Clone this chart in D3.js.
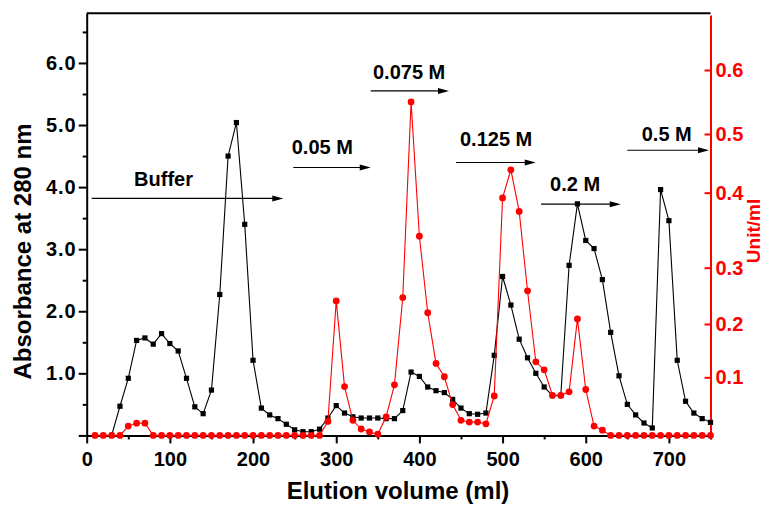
<!DOCTYPE html>
<html>
<head>
<meta charset="utf-8">
<script src="https://cdn.jsdelivr.net/npm/d3@7"></script>
<style>
	body { margin: 0; background: #fff; }
	svg { display: block; overflow: hidden; font-family: "Liberation Sans", Arial, sans-serif; font-weight: bold; }
</style>
</head>
<body>
<script>
// absorbance at 280 nm (black squares)
var absVolume = [30, 40, 50, 60, 70, 80, 90, 100, 110, 120, 130, 140, 150, 160, 170, 180, 190, 200,
	210, 220, 230, 240, 250, 260, 270, 280, 290, 300, 310, 320, 330, 340, 350, 360, 370, 380, 390, 400,
	410, 420, 430, 440, 450, 460, 470, 480, 490, 500, 510, 520, 530, 540, 550, 560, 570, 580, 590, 600,
	610, 620, 630, 640, 650, 660, 670, 680, 690, 700, 710, 720, 730, 740, 750];
var absValues = [0, 0.47, 0.92, 1.53, 1.57, 1.47, 1.64, 1.48, 1.36, 0.92, 0.46, 0.35, 0.73, 2.27, 4.50, 5.04, 3.40, 1.21,
	0.44, 0.33, 0.27, 0.18, 0.09, 0.06, 0.06, 0.10, 0.28, 0.48, 0.36, 0.30, 0.28, 0.28, 0.28, 0.27, 0.27, 0.40, 1.02, 0.95,
	0.78, 0.72, 0.69, 0.58, 0.44, 0.35, 0.34, 0.36, 1.29, 2.56, 2.10, 1.55, 1.25, 1.00, 0.78, 0.64, 0.64, 2.74, 3.73, 3.14,
	3.01, 2.51, 1.66, 0.96, 0.50, 0.33, 0.20, 0.12, 3.96, 3.46, 1.21, 0.55, 0.36, 0.27, 0.21];

// activity in Unit/ml (red circles)
var actVolume = [10, 20, 30, 40, 50, 60, 70, 80, 90, 100, 110, 120, 130, 140, 150, 160, 170, 180, 190, 200,
	210, 220, 230, 240, 250, 260, 270, 280, 290, 300, 310, 320, 330, 340, 350, 360, 370, 380, 390, 400,
	410, 420, 430, 440, 450, 460, 470, 480, 490, 500, 510, 520, 530, 540, 550, 560, 570, 580, 590, 600,
	610, 620, 630, 640, 650, 660, 670, 680, 690, 700, 710, 720, 730, 740, 750];
var actValues = [0, 0, 0, 0, 0.016, 0.021, 0.021, 0, 0, 0, 0, 0, 0, 0, 0, 0, 0, 0, 0, 0,
	0, 0, 0, 0, 0, 0, 0, 0, 0.024, 0.241, 0.084, 0.026, 0.011, 0.006, 0.002, 0.032, 0.087, 0.247, 0.550, 0.342,
	0.220, 0.126, 0.101, 0.053, 0.026, 0.023, 0.023, 0.020, 0.068, 0.393, 0.439, 0.375, 0.259, 0.129, 0.114, 0.069, 0.069, 0.075, 0.209, 0.079,
	0.016, 0.009, 0, 0, 0, 0, 0, 0, 0, 0, 0, 0, 0, 0, 0];

var xTicks = [0, 100, 200, 300, 400, 500, 600, 700];
var yTicks = [1, 2, 3, 4, 5, 6];
var y2Ticks = [0.1, 0.2, 0.3, 0.4, 0.5, 0.6];

// salt step annotations (data units: ml and absorbance)
var stepLabels = ["Buffer", "0.05 M", "0.075 M", "0.125 M", "0.2 M", "0.5 M"];
var stepStart = [6, 248.4, 341.5, 444, 546.2, 650];
var stepEnd = [236.4, 341.5, 435.6, 539.9, 642.1, 748.2];
var stepLevel = [3.817, 4.316, 5.549, 4.396, 3.725, 4.594];
var stepTextX = [57, 246.5, 344.2, 448.8, 557.1, 667.3];
var stepTextY = [4.015, 4.541, 5.749, 4.667, 3.939, 4.744];

window.onload = function(){
	var w = 764, h = 505;
	var left = 86.7, right = 710.5, top = 13.3, bottom = 435.4;

	var svg = d3.select("body")
		.append("svg")
		.attr("width", w)
		.attr("height", h)
		.attr("class", "chart");

	var x = d3.scaleLinear()
		.domain([0, 750])
		.range([left, right]);

	var y = d3.scaleLinear()
		.domain([0, 6.8])
		.range([bottom, top]);

	//the right axis of the original is not evenly spaced, so piecewise
	var y2 = d3.scaleLinear()
		.domain([0, 0.1, 0.2, 0.3, 0.4, 0.5, 0.6, 0.686])
		.range([435.4, 377.3, 324, 267.7, 192.7, 134, 70, 15]);

	function styleAxis(g, color, size, spacing){
		g.selectAll("path").attr("stroke", color).attr("stroke-width", 2);
		g.selectAll("line").attr("stroke", color).attr("stroke-width", 2);
		g.selectAll("text")
			.attr("fill", color)
			.style("font-size", size + "px")
			.style("font-weight", "bold")
			.style("letter-spacing", spacing + "px");
		g.attr("font-family", null).attr("font-size", null);
	}

	//top frame line
	svg.append("line")
		.attr("class", "frame")
		.attr("x1", left)
		.attr("x2", right)
		.attr("y1", top)
		.attr("y2", top)
		.attr("stroke", "#000")
		.attr("stroke-width", 2);

	//bottom axis, minor then major
	svg.append("g")
		.attr("class", "xMinor")
		.attr("transform", "translate(0," + bottom + ")")
		.call(d3.axisBottom(x).tickValues([50, 150, 250, 350, 450, 550, 650, 750]).tickSize(4).tickFormat(""))
		.call(function(g){ styleAxis(g, "#000", 20, 0); g.select(".domain").remove(); });

	svg.append("g")
		.attr("class", "xAxis")
		.attr("transform", "translate(0," + bottom + ")")
		.call(d3.axisBottom(x).tickValues(xTicks).tickSize(8).tickSizeOuter(0).tickPadding(8).tickFormat(d3.format("d")))
		.call(function(g){ styleAxis(g, "#000", 20, 0); });

	//left axis
	svg.append("g")
		.attr("class", "yMinor")
		.attr("transform", "translate(" + left + ",0)")
		.call(d3.axisLeft(y).tickValues([0.5, 1.5, 2.5, 3.5, 4.5, 5.5, 6.5]).tickSize(4).tickFormat(""))
		.call(function(g){ styleAxis(g, "#000", 20, 0); g.select(".domain").remove(); });

	svg.append("g")
		.attr("class", "yAxis")
		.attr("transform", "translate(" + left + ",0)")
		.call(d3.axisLeft(y).tickValues([0].concat(yTicks)).tickSize(8).tickSizeOuter(0).tickPadding(2)
			.tickFormat(function(d){ return d === 0 ? "" : d3.format(".1f")(d); }))
		.call(function(g){ styleAxis(g, "#000", 20, 1); });

	//right axis (activity)
	svg.append("g")
		.attr("class", "y2Axis")
		.attr("transform", "translate(" + right + ",0)")
		.call(d3.axisRight(y2).tickValues(y2Ticks).tickSize(-6).tickSizeOuter(0).tickPadding(5).tickFormat(d3.format(".1f")))
		.call(function(g){ styleAxis(g, "#ff0000", 20, 0); });

	var absData = absVolume.map(function(d, i){ return {v: d, a: absValues[i]}; });
	var actData = actVolume.map(function(d, i){ return {v: d, a: actValues[i]}; });

	//absorbance series
	svg.append("path")
		.datum(absData)
		.attr("class", "absLine")
		.attr("fill", "none")
		.attr("stroke", "#000")
		.attr("stroke-width", 1.1)
		.attr("d", d3.line()
			.x(function(d){ return x(d.v); })
			.y(function(d){ return y(d.a); }));

	svg.selectAll(".absPoint")
		.data(absData)
		.enter()
		.append("rect")
		.attr("class", "absPoint")
		.attr("x", function(d){ return x(d.v) - 2.6; })
		.attr("y", function(d){ return y(d.a) - 2.6; })
		.attr("width", 5.2)
		.attr("height", 5.2)
		.style("fill", "#000");

	//activity series
	svg.append("path")
		.datum(actData)
		.attr("class", "actLine")
		.attr("fill", "none")
		.attr("stroke", "#ff0000")
		.attr("stroke-width", 1.1)
		.attr("d", d3.line()
			.x(function(d){ return x(d.v); })
			.y(function(d){ return y2(d.a); }));

	svg.selectAll(".actPoint")
		.data(actData)
		.enter()
		.append("circle")
		.attr("class", "actPoint")
		.attr("cx", function(d){ return x(d.v); })
		.attr("cy", function(d){ return y2(d.a); })
		.attr("r", 3.4)
		.style("fill", "#ff0000");

	//step arrows
	var steps = stepLabels.map(function(d, i){
		return {label: d, x0: stepStart[i], x1: stepEnd[i], lv: stepLevel[i], tx: stepTextX[i], ty: stepTextY[i]};
	});

	var stepG = svg.selectAll(".step")
		.data(steps)
		.enter()
		.append("g")
		.attr("class", "step");

	stepG.append("line")
		.attr("x1", function(d){ return x(d.x0); })
		.attr("x2", function(d){ return x(d.x1) - 6; })
		.attr("y1", function(d){ return y(d.lv); })
		.attr("y2", function(d){ return y(d.lv); })
		.attr("stroke", "#000")
		.attr("stroke-width", 1.2);

	stepG.append("path")
		.attr("d", function(d){
			var tx = x(d.x1), ty = y(d.lv);
			return "M" + tx + "," + ty + "L" + (tx - 11) + "," + (ty - 3) + "L" + (tx - 11) + "," + (ty + 3) + "Z";
		})
		.style("fill", "#000");

	stepG.append("text")
		.attr("x", function(d){ return x(d.tx); })
		.attr("y", function(d){ return y(d.ty); })
		.style("font-size", "20px")
		.text(function(d){ return d.label; });

	//axis titles
	svg.append("text")
		.attr("class", "xTitle")
		.attr("x", 398)
		.attr("y", 499)
		.attr("text-anchor", "middle")
		.style("font-size", "24px")
		.text("Elution volume (ml)");

	svg.append("text")
		.attr("class", "yTitle")
		.attr("transform", "translate(31,251.5) rotate(-90)")
		.attr("text-anchor", "middle")
		.style("font-size", "24px")
		.text("Absorbance at 280 nm");

	svg.append("text")
		.attr("class", "y2Title")
		.attr("transform", "translate(760,231) rotate(-90)")
		.attr("text-anchor", "middle")
		.style("font-size", "19px")
		.style("fill", "#ff0000")
		.text("Unit/ml");
};
</script>
</body>
</html>
